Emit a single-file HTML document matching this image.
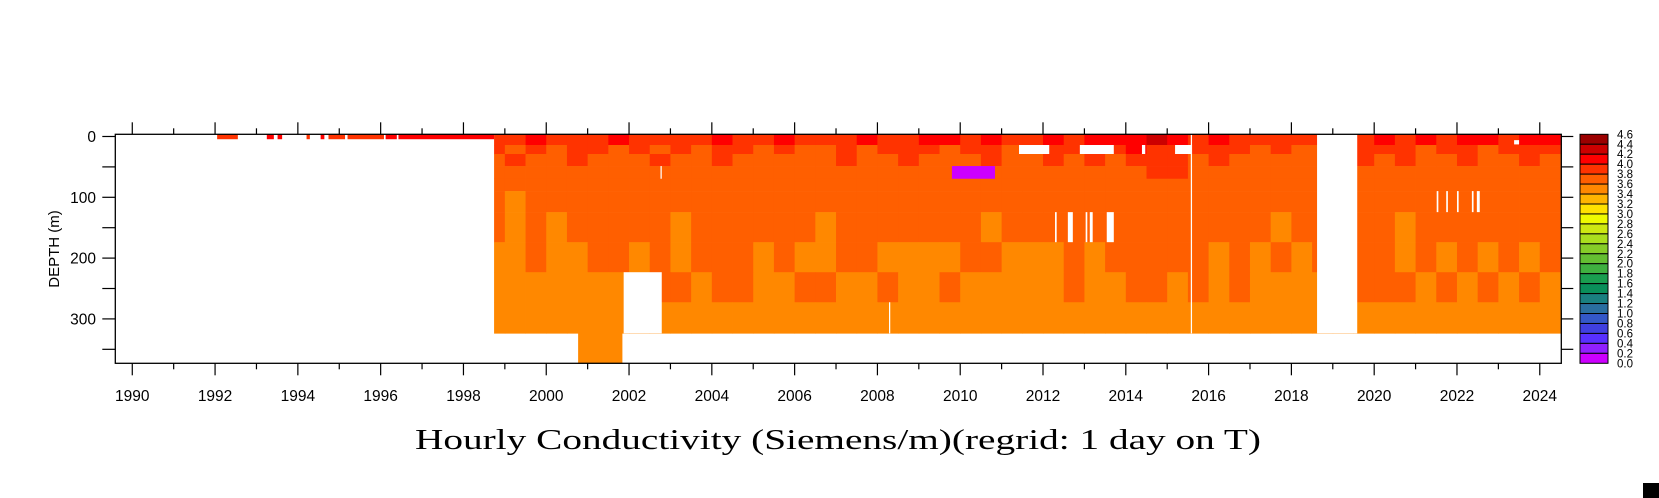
<!DOCTYPE html>
<html><head><meta charset="utf-8"><title>Hourly Conductivity</title>
<style>
html,body{margin:0;padding:0;background:#fff;}
svg{display:block;}
text{font-family:"Liberation Sans",sans-serif;fill:#000;}
</style></head>
<body>
<svg id="chart" width="1659" height="498" viewBox="0 0 1659 498" xmlns="http://www.w3.org/2000/svg">
  <g id="cells"></g>
  <g id="gaps"></g>
  <g id="axes"></g>
  <g id="cbar"></g>
  <text x="415" y="449" textLength="846" lengthAdjust="spacingAndGlyphs" style="font-family:'Liberation Serif',serif;font-size:29px;">Hourly Conductivity (Siemens/m)(regrid: 1 day on T)</text>
  <text transform="translate(59,249) rotate(-90)" text-anchor="middle" style="font-size:15px;">DEPTH (m)</text>
  <rect x="1643" y="483" width="16" height="15" fill="#000"/>
</svg>
<script>
// ---- data ----
const depthBounds = [-3.6, 14.0, 28.8, 48.6, 69.5, 89.8, 124.4, 173.8, 223.2, 272.6, 323.7, 373];
const halfYearStart = 1998.5;
const row0 = [3.9,3.9,4.1,3.9,3.9,3.9,4.1,3.9,3.9,3.9,3.9,4.1,3.9,3.9,4.1,3.9,3.9,3.9,4.1,3.9,3.9,4.1,4.1,3.9,4.1,3.9,3.9,4.1,3.9,4.1,4.1,4.1,4.3,4.1,3.9,4.1,3.9,3.9,3.9,3.9,3.9,3.9,3.9,4.1,3.9,4.1,3.9,4.1,4.1,3.9,4.1,4.1];
const row1 = [3.9,3.7,3.9,3.7,3.9,3.9,3.7,3.9,3.7,3.9,3.7,3.9,3.9,3.7,3.9,3.7,3.7,3.9,3.7,3.9,3.9,3.9,3.7,3.9,3.9,3.7,3.9,3.9,3.9,3.9,3.9,4.1,3.9,3.9,3.9,3.9,3.9,3.7,3.9,3.7,3.7,3.7,3.9,3.9,3.9,3.7,3.9,3.9,3.7,3.9,3.9,3.9];
const row2 = [3.7,3.9,3.7,3.7,3.9,3.7,3.7,3.7,3.9,3.7,3.7,3.9,3.7,3.7,3.7,3.7,3.7,3.9,3.7,3.7,3.9,3.7,3.7,3.7,3.9,3.7,3.7,3.9,3.7,3.9,3.7,3.9,3.9,3.9,3.7,3.9,3.7,3.7,3.7,3.7,3.7,3.7,3.9,3.7,3.9,3.7,3.7,3.9,3.7,3.7,3.9,3.7];
const row3 = [3.7,3.7,3.7,3.7,3.7,3.7,3.7,3.7,3.7,3.7,3.7,3.7,3.7,3.7,3.7,3.7,3.7,3.7,3.7,3.7,3.7,3.7,3.7,3.7,3.7,3.7,3.7,3.7,3.7,3.7,3.7,3.7,3.9,3.9,3.7,3.7,3.7,3.7,3.7,3.7,3.7,3.7,3.7,3.7,3.7,3.7,3.7,3.7,3.7,3.7,3.7,3.7];
const row4 = [3.7,3.7,3.7,3.7,3.7,3.7,3.7,3.7,3.7,3.7,3.7,3.7,3.7,3.7,3.7,3.7,3.7,3.7,3.7,3.7,3.7,3.7,3.7,3.7,3.7,3.7,3.7,3.7,3.7,3.7,3.7,3.7,3.7,3.7,3.7,3.7,3.7,3.7,3.7,3.7,3.7,3.7,3.7,3.7,3.7,3.7,3.7,3.7,3.7,3.7,3.7,3.7];
const row5 = [3.7,3.5,3.7,3.7,3.7,3.7,3.7,3.7,3.7,3.7,3.7,3.7,3.7,3.7,3.7,3.7,3.7,3.7,3.7,3.7,3.7,3.7,3.7,3.7,3.7,3.7,3.7,3.7,3.7,3.7,3.7,3.7,3.7,3.7,3.7,3.7,3.7,3.7,3.7,3.7,3.7,3.7,3.7,3.7,3.7,3.7,3.7,3.7,3.7,3.7,3.7,3.7];
const row6 = [3.7,3.5,3.7,3.5,3.7,3.7,3.7,3.7,3.7,3.5,3.7,3.7,3.7,3.7,3.7,3.7,3.5,3.7,3.7,3.7,3.7,3.7,3.7,3.7,3.5,3.7,3.7,3.7,3.7,3.7,3.7,3.7,3.7,3.7,3.7,3.7,3.7,3.7,3.5,3.7,3.7,3.7,3.7,3.7,3.5,3.7,3.7,3.7,3.7,3.7,3.7,3.7];
const row7 = [3.5,3.5,3.7,3.5,3.5,3.7,3.7,3.5,3.7,3.5,3.7,3.7,3.7,3.5,3.7,3.5,3.5,3.7,3.7,3.5,3.5,3.5,3.5,3.7,3.7,3.5,3.5,3.5,3.7,3.5,3.7,3.7,3.7,3.7,3.7,3.5,3.7,3.5,3.7,3.5,3.7,3.7,3.7,3.7,3.5,3.7,3.5,3.7,3.5,3.7,3.5,3.7];
const row8 = [3.5,3.5,3.5,3.5,3.5,3.5,3.5,3.5,3.7,3.7,3.5,3.7,3.7,3.5,3.5,3.7,3.7,3.5,3.5,3.7,3.5,3.5,3.7,3.5,3.5,3.5,3.5,3.5,3.7,3.5,3.5,3.7,3.7,3.5,3.7,3.5,3.7,3.5,3.5,3.5,3.5,3.5,3.7,3.7,3.7,3.5,3.7,3.5,3.7,3.5,3.7,3.5];
const row9 = [3.5,3.5,3.5,3.5,3.5,3.5,3.5,3.5,3.5,3.5,3.5,3.5,3.5,3.5,3.5,3.5,3.5,3.5,3.5,3.5,3.5,3.5,3.5,3.5,3.5,3.5,3.5,3.5,3.5,3.5,3.5,3.5,3.5,3.5,3.5,3.5,3.5,3.5,3.5,3.5,3.5,3.5,3.5,3.5,3.5,3.5,3.5,3.5,3.5,3.5,3.5,3.5];
const row10 = [3.5,3.5,3.5,3.5,3.5,3.5,3.5,3.5,3.5,3.5,3.5,3.5,3.5,3.5,3.5,3.5,3.5,3.5,3.5,3.5,3.5,3.5,3.5,3.5,3.5,3.5,3.5,3.5,3.5,3.5,3.5,3.5,3.5,3.5,3.5,3.5,3.5,3.5,3.5,3.5,3.5,3.5,3.5,3.5,3.5,3.5,3.5,3.5,3.5,3.5,3.5,3.5];
const rows = [row0,row1,row2,row3,row4,row5,row6,row7,row8,row9,row10];
// time coverage per row [start, end]
const rowStart = [1998.74,1998.74,1998.74,1998.74,1998.74,1998.74,1998.74,1998.74,1998.74,1998.74,2000.77];
const rowEnd   = [2024.52,2024.52,2024.52,2024.52,2024.52,2024.52,2024.52,2024.52,2024.52,2024.52,2001.83];
// early near-surface segments (1992-1998)
const earlyStart = [1992.05,1993.25,1993.51,1994.21,1994.55,1994.74,1995.20,1996.12,1996.43];
const earlyEnd   = [1992.55,1993.42,1993.62,1994.29,1994.64,1995.14,1996.08,1996.39,1998.74];
const earlyVal   = [3.9,4.1,4.1,3.9,4.1,3.9,3.9,4.1,4.1];
const earlyDepth = [-3.6, 4.5];
// missing-data gaps: [t0, t1, depth0, depth1]
const gapT0 = [2018.62,2001.87,2011.42,2012.89,2014.39,2015.19,2012.29,2012.60,2013.03,2013.13,2013.54,2015.57,2021.51,2021.74,2022.00,2022.36,2022.48,2023.38,2002.76,2008.28];
const gapT1 = [2019.59,2002.79,2012.15,2013.71,2014.47,2015.60,2012.33,2012.72,2013.07,2013.20,2013.71,2015.60,2021.55,2021.78,2022.04,2022.40,2022.55,2023.50,2002.79,2008.31];
const gapD0 = [-3.6,223.2,14.0,14.0,14.0,14.0,124.4,124.4,124.4,124.4,124.4,-3.6,89.8,89.8,89.8,89.8,89.8,6.0,48.6,272.6];
const gapD1 = [323.7,323.7,28.8,28.8,28.8,28.8,173.8,173.8,173.8,173.8,173.8,323.7,124.4,124.4,124.4,124.4,124.4,13.0,69.5,323.7];
// purple anomaly block
const anomT = [2009.80, 2010.84]; const anomD = [48.6, 69.5]; const anomVal = 0.1;
// color scale
const levels = [4.6,4.4,4.2,4.0,3.8,3.6,3.4,3.2,3.0,2.8,2.6,2.4,2.2,2.0,1.8,1.6,1.4,1.2,1.0,0.8,0.6,0.4,0.2,0.0];
const palette = ["#9b0000","#cc0000","#ff0000","#ff3300","#ff5f00","#ff8800","#ffb400","#ffe100","#eefa00","#cde812","#aade1e","#86cc28","#64be32","#3fb040","#1a9e50","#0a8f5a","#1a8080","#2a6ea0","#3458c8","#4040e0","#5830ff","#9020ff","#cc00ff"];
const yearLabels = [1990,1992,1994,1996,1998,2000,2002,2004,2006,2008,2010,2012,2014,2016,2018,2020,2022,2024];
const depthLabels = [0,100,200,300];

// ---- scales ----
const X0=115.3, X1=1561.3, Y0=134.3, Y1=363.3;
const T0=1989.59, T1=2024.52, D0=-3.6, D1=373;
const xs = t => X0 + (t-T0)/(T1-T0)*(X1-X0);
const ys = d => Y0 + (d-D0)/(D1-D0)*(Y1-Y0);
const color = v => { let i = Math.floor(v/0.2+1e-9); i=Math.max(0,Math.min(22,i)); return palette[22-i]; };
const NS="http://www.w3.org/2000/svg";
function mk(tag, attrs, parent){ const e=document.createElementNS(NS,tag); for(const k in attrs) e.setAttribute(k,attrs[k]); parent.appendChild(e); return e; }

const gc=document.getElementById('cells');
rows.forEach((vals,r)=>{
  vals.forEach((v,i)=>{
    let t0=Math.max(halfYearStart+0.5*i,rowStart[r]), t1=Math.min(halfYearStart+0.5*i+0.5,rowEnd[r]);
    if(t1<=t0) return;
    const x0=xs(t0), x1=xs(t1);
    const el=mk('rect',{x:x0.toFixed(2),y:ys(depthBounds[r]).toFixed(2),width:(x1-x0+0.4).toFixed(2),height:(ys(depthBounds[r+1])-ys(depthBounds[r])+0.3).toFixed(2),fill:color(v)},gc);
    
    
  });
});
earlyVal.forEach((v,i)=>{
  const el=mk('rect',{x:xs(earlyStart[i]).toFixed(2),y:ys(earlyDepth[0]).toFixed(2),width:(xs(earlyEnd[i])-xs(earlyStart[i])).toFixed(2),height:(ys(earlyDepth[1])-ys(earlyDepth[0])).toFixed(2),fill:color(v)},gc);
  
  
});
{
  const el=mk('rect',{x:xs(anomT[0]).toFixed(2),y:ys(anomD[0]).toFixed(2),width:(xs(anomT[1])-xs(anomT[0])).toFixed(2),height:(ys(anomD[1])-ys(anomD[0])).toFixed(2),fill:color(anomVal)},gc);
  
  
}
const gg=document.getElementById('gaps');
gapT0.forEach((t,i)=>{
  const el=mk('rect',{x:xs(t).toFixed(2),y:ys(gapD0[i]).toFixed(2),width:Math.max(1,xs(gapT1[i])-xs(t)).toFixed(2),height:(ys(gapD1[i])-ys(gapD0[i])).toFixed(2),fill:"#fff"},gg);
  
  
});

// ---- axes ----
const ga=document.getElementById('axes');
const frame=mk('rect',{x:X0,y:Y0,width:X1-X0,height:Y1-Y0,fill:"none",stroke:"#000","stroke-width":1.3},ga);


for(let yr=1990; yr<=2024; yr++){
  const x=xs(yr), big=(yr%2===0);
  const L=big?12:6;
  const tb=mk('line',{x1:x,x2:x,y1:Y1,y2:Y1+L,stroke:"#000","stroke-width":1.2},ga);
  
  
  const tt=mk('line',{x1:x,x2:x,y1:Y0,y2:Y0-L,stroke:"#000","stroke-width":1.2},ga);
  
  
}
yearLabels.forEach(yr=>{
  const t=mk('text',{x:xs(yr),y:401,"text-anchor":"middle","font-size":"15.5"},ga);
  t.textContent=String(yr);
  
  
});
for(let d=0; d<=350; d+=50){
  const y=ys(d);
  const l=mk('line',{x1:X0-13,x2:X0,y1:y,y2:y,stroke:"#000","stroke-width":1.2},ga);
  
  
  const r=mk('line',{x1:X1,x2:X1+12,y1:y,y2:y,stroke:"#000","stroke-width":1.2},ga);
  
  
}
depthLabels.forEach(d=>{
  const t=mk('text',{x:96,y:ys(d)+5.5,"text-anchor":"end","font-size":"15.5"},ga);
  t.textContent=String(d);
  
  
});

// ---- colorbar ----
const gb=document.getElementById('cbar');
const CBX=1580, CBW=28, CBT=134.3, CBB=363.3, bh=(CBB-CBT)/palette.length;
palette.forEach((c,i)=>{
  const r=mk('rect',{x:CBX,y:(CBT+i*bh).toFixed(2),width:CBW,height:bh.toFixed(2),fill:c,stroke:"#000","stroke-width":1},gb);
  
  
});
levels.forEach((v,i)=>{
  const t=mk('text',{x:1617,y:(CBT+i*bh+4).toFixed(2),"font-size":"11.5"},gb);
  t.textContent=v.toFixed(1);
  
  
});
</script>
</body></html>
